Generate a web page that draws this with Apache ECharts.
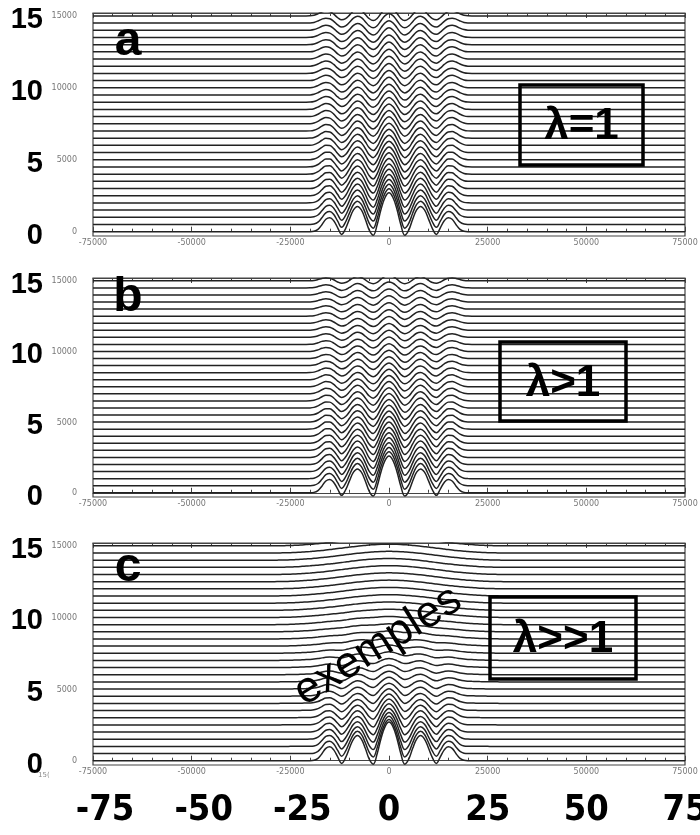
<!DOCTYPE html>
<html lang="en">
<head>
<meta charset="UTF-8">
<title>wave stacks</title>
<script src="https://cdn.jsdelivr.net/npm/echarts@6/dist/echarts.min.js"></script>
<style>html,body{margin:0;padding:0;background:#fff}</style>
</head>
<body>
<div id="chart" style="width:700px;height:835px;"></div>
<script>
// x positions of the half profiles (thousands), mirrored around 0
var halfX = [0,1,2,3,4,5,6,7,8,9,10,11,12,13,14,15,16,17,18,19,20,21,22,23,24,25,26,27,28,29,30];
// shape of the lowest trace (center peak = 1)
var pulseHalf = [1,0.88,0.58,0.18,-0.09,0.04,0.32,0.56,0.65,0.56,0.33,0.08,-0.07,0.1,0.28,0.36,0.32,0.18,0.06,0.01,0,0,0,0,0,0,0,0,0,0,0];
// oscillating shape of the upper traces
var rippleHalf = [1,0.78,0.28,-0.28,-0.5,-0.3,0.15,0.58,0.72,0.52,0.08,-0.3,-0.42,-0.2,0.18,0.45,0.52,0.42,0.22,0.07,0.01,0,0,0,0,0,0,0,0,0,0];
// broad bump seen in panel c
var humpHalf = [1,0.99,0.98,0.96,0.93,0.9,0.86,0.82,0.77,0.72,0.67,0.61,0.55,0.5,0.44,0.39,0.34,0.29,0.25,0.21,0.17,0.14,0.11,0.08,0.06,0.04,0.03,0.02,0.01,0,0];

// baseline of every trace (thousands)
var levels = [0,0.5,1,1.5,2,2.5,3,3.5,4,4.5,5,5.5,6,6.5,7,7.5,8,8.5,9,9.5,10,10.5,11,11.5,12,12.5,13,13.5,14,14.5,15];

// amplitudes per trace, panel a
var pulseA = [2.7,2.42,2.16,1.92,1.7,1.5,1.31,1.14,0.98,0.84,0.71,0.59,0.48,0.38,0.3,0.23,0.17,0.12,0.08,0.05,0.03,0.01,0,0,0,0,0,0,0,0,0];
var rippleA = [0,0.07,0.14,0.21,0.28,0.34,0.4,0.45,0.5,0.54,0.58,0.61,0.64,0.66,0.68,0.69,0.7,0.7,0.7,0.7,0.7,0.7,0.69,0.69,0.68,0.68,0.67,0.67,0.66,0.66,0.65];
// panel b
var pulseB = [2.6,2.33,2.08,1.85,1.64,1.45,1.27,1.11,0.96,0.82,0.7,0.59,0.49,0.4,0.32,0.25,0.19,0.14,0.1,0.07,0.04,0.02,0.01,0,0,0,0,0,0,0,0];
var rippleB = [0,0.07,0.13,0.19,0.25,0.3,0.35,0.39,0.43,0.46,0.49,0.51,0.53,0.54,0.55,0.55,0.55,0.54,0.53,0.52,0.51,0.5,0.49,0.48,0.47,0.46,0.45,0.44,0.43,0.42,0.41];
// panel c
var pulseC = [2.7,2.32,1.98,1.67,1.4,1.16,0.95,0.77,0.61,0.48,0.37,0.28,0.2,0.14,0.09,0.05,0.03,0.01,0,0,0,0,0,0,0,0,0,0,0,0,0];
var rippleC = [0,0.06,0.11,0.16,0.2,0.23,0.24,0.24,0.23,0.21,0.19,0.17,0.14,0.12,0.1,0.08,0.06,0.04,0.03,0.02,0.01,0,0,0,0,0,0,0,0,0,0];
var humpC = [0,0,0.01,0.03,0.05,0.08,0.11,0.14,0.18,0.22,0.26,0.3,0.34,0.38,0.42,0.45,0.48,0.51,0.53,0.55,0.57,0.58,0.59,0.6,0.61,0.62,0.62,0.62,0.62,0.62,0.62];
var zeros = levels.map(function () { return 0; });

var panelLetters = ['a', 'b', 'c'];
var panelTags = ['λ=1', 'λ>1', 'λ>>1'];
var yLabelValues = [0, 5, 10, 15];
var bottomLabels = ['-75', '-50', '-25', '0', '25', '50', '75'];

var panels = [
  { pulse: pulseA, ripple: rippleA, hump: zeros },
  { pulse: pulseB, ripple: rippleB, hump: zeros },
  { pulse: pulseC, ripple: rippleC, hump: humpC }
];

// full x list: far edges plus mirrored half profile
var xs = [-75];
for (var i = halfX.length - 1; i > 0; i--) xs.push(-halfX[i]);
for (i = 0; i < halfX.length; i++) xs.push(halfX[i]);
xs.push(75);

function profileAt(half, x) {
  var idx = halfX.indexOf(Math.abs(x));
  return idx < 0 ? 0 : half[idx];
}

var grids = [
  { left: 93, right: 15, top: 13, height: 223 },
  { left: 93, right: 15, top: 278, height: 219 },
  { left: 93, right: 15, top: 543, height: 222 }
];

var xAxes = [], yAxes = [], series = [];
var lbl = { b: { fontSize: 29, fontWeight: 'bold', fontFamily: 'Liberation Sans', color: '#000', width: 32, align: 'right', padding: [8, 0, 0, 0] },
            s: { fontSize: 8, fontFamily: 'DejaVu Sans', color: '#777', width: 34, align: 'right', verticalAlign: 'top', padding: [15, 0, 0, 0] } };

grids.forEach(function (g, gi) {
  g.show = true; g.borderColor = '#444'; g.borderWidth = 1.2;
  g.containLabel = false; g.outerBoundsMode = 'none';
  xAxes.push({
    type: 'value', gridIndex: gi, min: -75, max: 75, interval: 25,
    axisLine: { show: true, lineStyle: { color: '#444' } },
    axisTick: { show: true, inside: true, length: 5, lineStyle: { color: '#444' } },
    minorTick: { show: true, splitNumber: 5, length: 3, lineStyle: { color: '#444' } },
    splitLine: { show: false },
    axisLabel: { fontSize: 8, fontFamily: 'DejaVu Sans', color: '#777', margin: 3,
      formatter: function (v) { return String(v * 1000); } }
  });
  xAxes.push({
    type: 'value', gridIndex: gi, position: 'top', min: -75, max: 75, interval: 25,
    axisLine: { show: true, lineStyle: { color: '#444' } },
    axisTick: { show: true, inside: true, length: 5, lineStyle: { color: '#444' } },
    minorTick: { show: true, splitNumber: 5, length: 3, lineStyle: { color: '#444' } },
    splitLine: { show: false }, axisLabel: { show: false }
  });
  yAxes.push({
    type: 'value', gridIndex: gi, min: -0.3, max: 15.2,
    axisLine: { show: false }, axisTick: { show: false }, splitLine: { show: false },
    axisLabel: { customValues: yLabelValues, margin: 16, rich: lbl,
      formatter: function (v) { return '{b|' + v + '}{s|' + (v * 1000) + '}'; } }
  });
  var p = panels[gi];
  levels.forEach(function (lv, k) {
    series.push({
      type: 'line', xAxisIndex: gi * 2, yAxisIndex: gi, smooth: 0.4,
      showSymbol: false, silent: true, animation: false,
      lineStyle: { color: '#222', width: 1.5 },
      data: xs.map(function (x) {
        return [x, lv + p.pulse[k] * profileAt(pulseHalf, x) +
          p.ripple[k] * profileAt(rippleHalf, x) + p.hump[k] * profileAt(humpHalf, x)];
      })
    });
  });
});

// large bottom scale under panel c
var bigFont = { fontSize: 36, fontWeight: 'bold', fontFamily: '"DejaVu Sans Condensed", "Liberation Sans", sans-serif', color: '#000' };
xAxes.push({
  type: 'value', gridIndex: 2, position: 'bottom', offset: 20, min: -75, max: 75, interval: 25,
  axisLine: { show: false }, axisTick: { show: false }, splitLine: { show: false },
  axisLabel: { margin: 8,
    formatter: function (v) { var t = bottomLabels[(v + 75) / 25]; return v < 0 ? '{n|' + t + '}' : '{p|' + t + '}'; },
    rich: { n: Object.assign({ padding: [0, 0, 0, 24] }, bigFont), p: bigFont } }
});

var boxes = [
  { x: 520, y: 85, w: 123, h: 80 },
  { x: 500, y: 342, w: 126, h: 79 },
  { x: 490, y: 597, w: 146, h: 82 }
];
var letterY = [42, 298, 568];
var graphic = [];
boxes.forEach(function (b, i) {
  graphic.push({ type: 'rect', z: 100, shape: { x: b.x, y: b.y, width: b.w, height: b.h },
    style: { fill: 'none', stroke: '#000', lineWidth: 3.5 } });
  graphic.push({ type: 'text', z: 100, x: b.x + b.w / 2, y: b.y + b.h / 2 + 2,
    style: { text: panelTags[i], font: 'bold 44px "Liberation Sans"', fill: '#000', textAlign: 'center', textVerticalAlign: 'middle' } });
  graphic.push({ type: 'text', z: 100, x: 128, y: letterY[i],
    style: { text: panelLetters[i], font: 'bold 48px "Liberation Sans"', fill: '#000', textAlign: 'center', textVerticalAlign: 'middle' } });
});
graphic.push({ type: 'text', z: 100, x: 378, y: 646, rotation: 32 * Math.PI / 180,
  style: { text: 'exemples', font: '44px "Liberation Sans"', fill: '#000', textAlign: 'center', textVerticalAlign: 'middle' } });
graphic.push({ type: 'text', z: 100, x: 38, y: 772,
  style: { text: '15(', font: '7px "DejaVu Sans"', fill: '#888' } });

var chart = echarts.init(document.getElementById('chart'));
chart.setOption({
  backgroundColor: '#fff',
  animation: false,
  grid: grids,
  xAxis: xAxes,
  yAxis: yAxes,
  series: series,
  graphic: graphic
});
</script>
</body>
</html>
